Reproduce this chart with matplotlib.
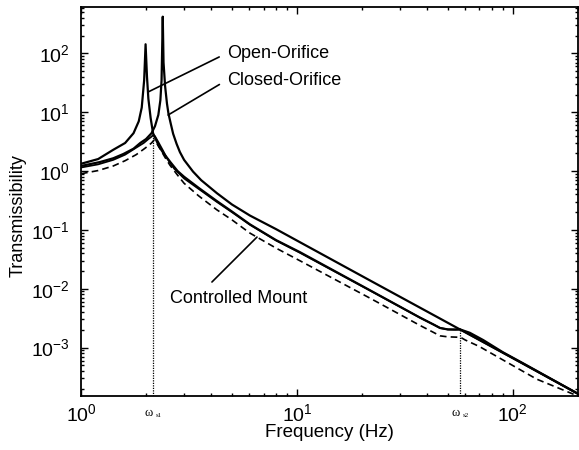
import matplotlib
matplotlib.use("Agg")
import matplotlib.pyplot as plt
from matplotlib.ticker import LogLocator, NullFormatter, LogFormatterSciNotation

plt.rcParams["font.family"] = ["Liberation Sans", "DejaVu Sans"]
plt.rcParams["mathtext.fontset"] = "custom"
plt.rcParams["mathtext.rm"] = "Liberation Sans"
plt.rcParams["mathtext.default"] = "regular"

# open-orifice mount
freq_open = [1.0, 1.2, 1.41, 1.6, 1.75, 1.85, 1.91, 1.96, 1.99, 2.02, 2.05, 2.1,
             2.155, 2.3, 2.4, 2.6, 2.8, 3.0, 3.5, 4.25, 5.0, 6.06, 8.0, 10.3,
             21.8, 37.1, 43, 46, 50, 54, 57, 63.2, 72.9, 90, 111, 200]
trans_open = [1.33, 1.6, 2.3, 3.0, 4.4, 7.0, 12, 35, 143, 40, 17, 8.0,
              4.4, 2.6, 2.05, 1.4, 1.0, 0.8, 0.52, 0.31, 0.205, 0.124, 0.067, 0.042,
              0.0094, 0.00323, 0.00245, 0.00215, 0.00203, 0.00202, 0.00203,
              0.00178, 0.00134, 8.3e-4, 5.45e-4, 1.64e-4]

# closed-orifice mount
freq_closed = [1.0, 1.22, 1.41, 1.57, 1.75, 1.88, 2.0, 2.12, 2.2, 2.28, 2.33, 2.36,
               2.39, 2.41, 2.45, 2.5, 2.54, 2.6, 2.67, 2.77, 2.87, 3.0, 3.3, 3.6,
               4.26, 5.0, 6.06, 8.0, 10.3, 21.8, 45.9, 56.9, 111, 200]
trans_closed = [1.22, 1.42, 1.65, 1.95, 2.4, 3.0, 3.5, 4.4, 5.8, 9.0, 16, 35,
                421, 70, 28, 14, 9.5, 6.5, 4.3, 2.9, 2.1, 1.55, 0.98, 0.7,
                0.42, 0.27, 0.175, 0.103, 0.062, 0.0138, 0.00312, 0.00203,
                5.35e-4, 1.64e-4]

# controlled mount (solid)
freq_ctrl = [1.0, 1.2, 1.41, 1.6, 1.8, 1.95, 2.05, 2.12, 2.16, 2.2, 2.28, 2.4, 2.5,
             2.7, 3.0, 3.5, 4.25, 5.0, 6.06, 8.0, 10.3, 21.8, 37.1, 43, 46, 50, 54,
             57, 65, 80, 111, 200]
trans_ctrl = [1.15, 1.3, 1.55, 1.9, 2.5, 3.0, 3.5, 3.85, 4.1, 3.9, 3.1, 2.2, 1.65,
              1.1, 0.75, 0.5, 0.3, 0.2, 0.122, 0.066, 0.041, 0.0093, 0.00323,
              0.00245, 0.00215, 0.00203, 0.00202, 0.00203, 0.00156, 0.00103,
              5.35e-4, 1.64e-4]

# controlled mount (dashed)
freq_ctrl2 = [1.0, 1.2, 1.41, 1.6, 1.8, 1.95, 2.05, 2.12, 2.18, 2.25, 2.32, 2.45,
              2.58, 2.8, 3.0, 3.5, 4.25, 5.0, 6.06, 8.0, 10.3, 21.8, 37.1, 43, 46,
              50, 55, 57.5, 60, 70, 87, 129, 200]
trans_ctrl2 = [0.9, 1.02, 1.22, 1.5, 1.9, 2.35, 2.7, 3.0, 3.37, 2.9, 2.4, 1.7,
               1.26, 0.85, 0.62, 0.38, 0.22, 0.148, 0.088, 0.049, 0.030, 0.0069,
               0.00238, 0.0018, 0.00158, 0.00152, 0.0015, 0.00148, 0.00135,
               0.00104, 6.6e-4, 2.9e-4, 1.5e-4]

# switching frequencies
omega_s1 = 2.16
omega_s1_top = 4.1
omega_s2 = 57.0
omega_s2_top = 0.0020

x_ticks = [1, 10, 100]
y_ticks = [1e-3, 1e-2, 1e-1, 1, 10, 100]

fig = plt.figure(figsize=(5.79, 4.5), dpi=100)
ax = fig.add_axes([0.140, 0.120, 0.858, 0.864])

ax.loglog(freq_open, trans_open, color="black", lw=1.6)
ax.loglog(freq_closed, trans_closed, color="black", lw=1.6)
ax.loglog(freq_ctrl, trans_ctrl, color="black", lw=1.3)
ax.loglog(freq_ctrl2, trans_ctrl2, color="black", lw=1.2, ls=(0, (4, 2.5)))

ymin, ymax = 1.5e-4, 610
ax.vlines([omega_s1, omega_s2], ymin, [omega_s1_top, omega_s2_top],
          color="black", lw=0.9, ls=(0, (1, 1)))

ax.set_xlim(1, 200)
ax.set_ylim(ymin, ymax)

ax.set_xticks(x_ticks)
ax.set_yticks(y_ticks)
ax.xaxis.set_major_formatter(LogFormatterSciNotation())
ax.yaxis.set_major_formatter(LogFormatterSciNotation())
ax.xaxis.set_minor_locator(LogLocator(base=10, subs=range(2, 10), numticks=20))
ax.yaxis.set_minor_locator(LogLocator(base=10, subs=range(2, 10), numticks=20))
ax.xaxis.set_minor_formatter(NullFormatter())
ax.yaxis.set_minor_formatter(NullFormatter())
ax.set_xlim(1, 200)
ax.set_ylim(ymin, ymax)
ax.tick_params(which="both", direction="in", top=True, right=True,
               labelsize=14, width=1.0)
ax.tick_params(which="major", length=5)
ax.tick_params(axis="x", which="major", pad=5)
ax.tick_params(axis="y", which="major", pad=8)
ax.tick_params(which="minor", length=2.5)
for sp in ax.spines.values():
    sp.set_linewidth(1.3)

ax.set_xlabel("Frequency (Hz)", fontsize=13.5, va="top")
ax.xaxis.set_label_coords(0.5, -0.073)
ax.set_ylabel("Transmissibility", fontsize=13)
ax.yaxis.set_label_coords(-0.109, 0.465)

# omega labels under the axis
for f, sub in [(omega_s1, "s1"), (omega_s2, "s2")]:
    ax.annotate("\u03c9", xy=(f, 0), xycoords=("data", "axes fraction"),
                xytext=(-3, -12), textcoords="offset points",
                ha="center", va="center", fontsize=9, family="Liberation Serif")
    ax.annotate(sub, xy=(f, 0), xycoords=("data", "axes fraction"),
                xytext=(4, -14), textcoords="offset points",
                ha="center", va="center", fontsize=5, family="Liberation Serif")

leader = dict(arrowstyle="-", color="black", lw=1.2, shrinkB=0)
ax.annotate("Open-Orifice", xy=(2.04, 22), xytext=(4.74, 101),
            fontsize=13, va="center", ha="left",
            arrowprops=dict(leader, shrinkA=4, relpos=(0.0, 0.5)))
ax.annotate("Closed-Orifice", xy=(2.53, 8.96), xytext=(4.74, 35.3),
            fontsize=13, va="center", ha="left",
            arrowprops=dict(leader, shrinkA=4, relpos=(0.0, 0.5)))
ax.annotate("Controlled Mount", xy=(6.53, 0.0755), xytext=(2.58, 0.0069),
            fontsize=13, va="center", ha="left",
            arrowprops=dict(leader, shrinkA=5, relpos=(0.25, 1.0)))

fig.savefig("out.png", dpi=100)
